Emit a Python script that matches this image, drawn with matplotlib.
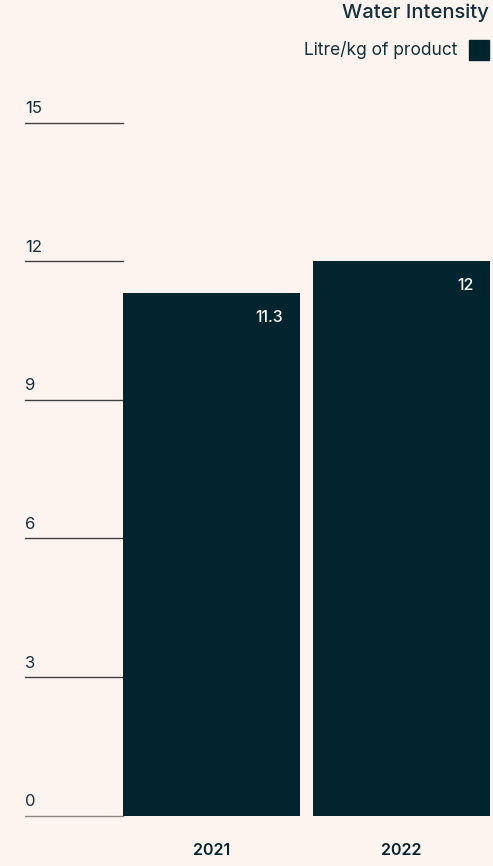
import matplotlib.pyplot as plt
import matplotlib.patches as mpatches

# Water intensity per year
years = ['2021', '2022']
intensity = [11.3, 12]
yticks = [0, 3, 6, 9, 12, 15]

bg = '#fdf4f0'
navy = '#02242f'
ink = '#12303b'
plt.rcParams['font.family'] = ['Inter', 'DejaVu Sans']

fig = plt.figure(figsize=(4.93, 8.66), dpi=100, facecolor=bg)
W, H = 493, 866
ax = fig.add_axes([25 / W, (H - 815.5) / H, 465 / W, 693 / H])
ax.set_facecolor(bg)

x = range(len(years))
ax.bar(x, intensity, width=177 / 190, color=navy, zorder=2)
ax.set_xlim(-186.5 / 190, 1 + 88.5 / 190)
ax.set_ylim(0, 15)
ax.axis('off')

# short gridlines with labels above them on the left
for t in yticks:
    ax.axhline(t, xmin=0, xmax=98 / 465, color='#3f3f3f' if t else '#8c8580',
               lw=1, zorder=1, clip_on=False)
    ax.annotate(str(t), (0, t), xycoords=('axes fraction', 'data'),
                xytext=(0, 4.5), textcoords='offset points',
                ha='left', va='bottom', fontsize=12, color=ink)

# value labels inside the bars, year labels below
for i, v in enumerate(intensity):
    ax.annotate(f'{v:g}', (i + 88.5 / 190, v), xytext=(-12, -12),
                textcoords='offset points', ha='right', va='top',
                fontsize=11.5, color='white', fontweight='medium')
    ax.annotate(years[i], (i, 0), xytext=(0, -25), textcoords='offset points',
                ha='center', va='center', fontsize=11.5, color=navy,
                fontweight='semibold')

fig.text(489 / W, 1 - 13 / H, 'Water Intensity', ha='right', va='center',
         fontsize=14.5, fontweight='medium', color=ink)
fig.text(457 / W, 1 - 50 / H, 'Litre/kg of product', ha='right', va='center',
         fontsize=12.5, color=ink)
fig.patches.append(mpatches.Rectangle((469 / W, 1 - 60 / H), 20 / W, 20 / H,
                                      transform=fig.transFigure, color=navy))

fig.savefig('out.png', dpi=100, facecolor=bg)
